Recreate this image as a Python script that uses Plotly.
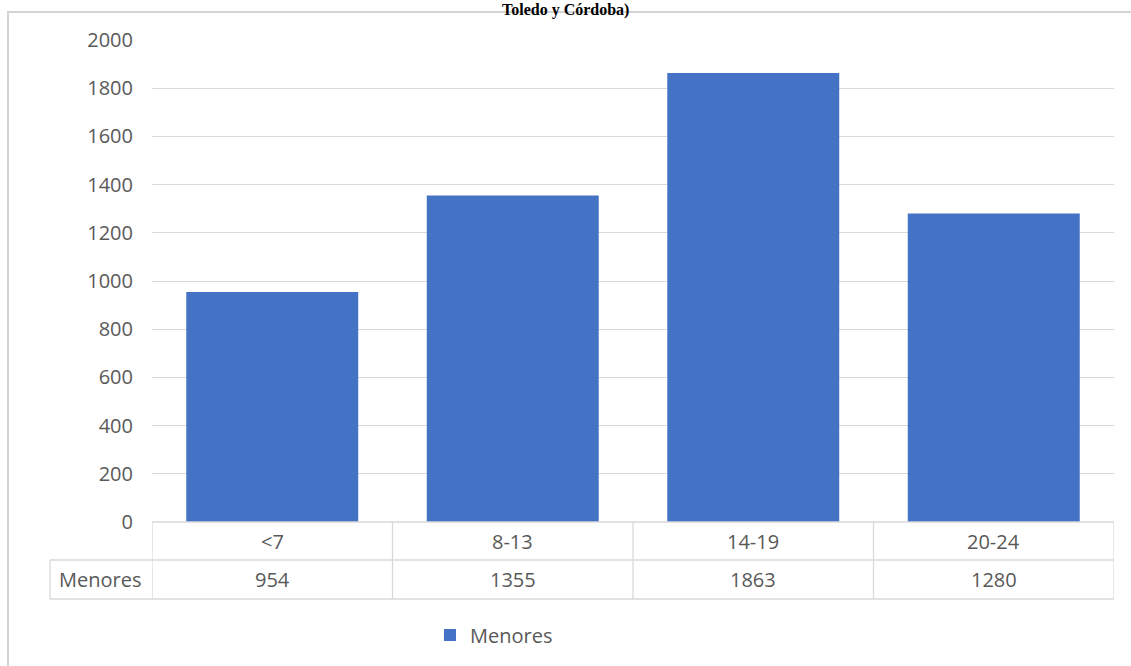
import plotly.graph_objects as go

categories = ["<7", "8-13", "14-19", "20-24"]
menores = [954, 1355, 1863, 1280]
series_name = "Menores"
y_ticks = [0, 200, 400, 600, 800, 1000, 1200, 1400, 1600, 1800, 2000]
title_text = "Toledo y Córdoba)"

W, H = 1131, 666
L, R, T, B = 152, 17, 40, 144
plot_h = H - T - B
plot_w = W - L - R

def py(pix):  # pixel y -> paper y
    return (H - B - pix) / plot_h

def px(pix):  # pixel x -> paper x
    return (pix - L) / plot_w

grey = "#595959"
line_c = "#d9d9d9"
font = dict(family="Open Sans, sans-serif", size=20, color=grey)

fig = go.Figure()
fig.add_trace(go.Bar(x=categories, y=menores, name=series_name,
                     marker=dict(color="#4472C4", line=dict(width=0))))

shapes = []
n = len(categories)
for yy in [0, py(560), py(599)]:
    shapes.append(dict(type="line", xref="x", yref="paper", x0=-0.5, x1=n - 0.5,
                       y0=yy, y1=yy, line=dict(color=line_c, width=1.3)))
for i in range(n + 1):
    shapes.append(dict(type="line", xref="x", yref="paper", x0=i - 0.5, x1=i - 0.5,
                       y0=0, y1=py(599), line=dict(color=line_c, width=1.3)))
for yy in [py(560), py(599)]:
    shapes.append(dict(type="line", xref="paper", yref="paper", x0=px(50), x1=0,
                       y0=yy, y1=yy, line=dict(color=line_c, width=1.3)))
shapes.append(dict(type="line", xref="paper", yref="paper", x0=px(50), x1=px(50),
                   y0=py(560), y1=py(599), line=dict(color=line_c, width=1.3)))
shapes.append(dict(type="path", xref="paper", yref="paper",
                   path=f"M {px(8)} {py(700)} L {px(8)} {py(12)} L {px(1140)} {py(12)}",
                   line=dict(color="#d4d4d4", width=2)))

annotations = []
for c, v in zip(categories, menores):
    annotations.append(dict(x=c, xref="x", y=py(541), yref="paper", text=c,
                            showarrow=False, font=font, xanchor="center", yanchor="middle"))
    annotations.append(dict(x=c, xref="x", y=py(579), yref="paper", text=str(v),
                            showarrow=False, font=font, xanchor="center", yanchor="middle"))
annotations.append(dict(x=px(100), xref="paper", y=py(579), yref="paper", text=series_name,
                        showarrow=False, font=font, xanchor="center", yanchor="middle"))
annotations.append(dict(x=px(565), xref="paper", y=py(-1), yref="paper", text=title_text,
                        showarrow=False, xanchor="center", yanchor="top",
                        font=dict(family="Liberation Serif, Times New Roman, serif",
                                  size=16, color="black", weight="bold")))

fig.update_layout(
    width=W, height=H,
    margin=dict(l=L, r=R, t=T, b=B, pad=0),
    paper_bgcolor="white", plot_bgcolor="white",
    bargap=0.285,
    showlegend=True,
    legend=dict(orientation="h", x=px(430), xanchor="left", y=py(635), yanchor="middle",
                font=font, bgcolor="rgba(0,0,0,0)"),
    xaxis=dict(showticklabels=False, showgrid=False, zeroline=False, showline=False,
               ticks="", range=[-0.5, n - 0.5]),
    yaxis=dict(range=[0, 2000], tickvals=y_ticks, showgrid=True, gridcolor=line_c,
               gridwidth=1, zeroline=False, showline=False, ticks="",
               ticklabelstandoff=18, tickfont=font),
    shapes=shapes,
    annotations=annotations,
)

fig.write_html("out.html")
